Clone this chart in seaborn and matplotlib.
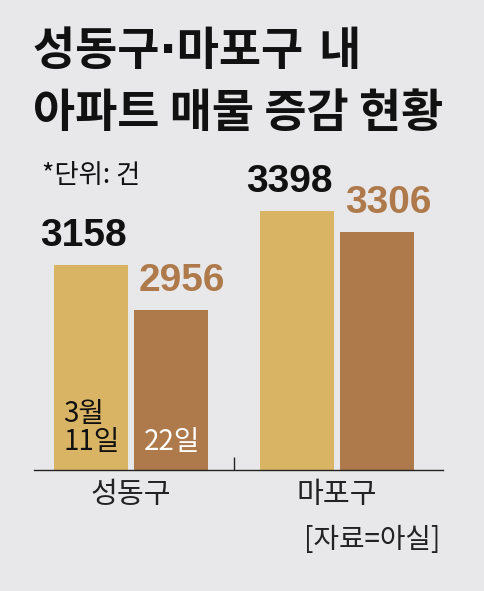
import matplotlib
matplotlib.use("Agg")
import matplotlib.pyplot as plt
import pandas as pd
import seaborn as sns

districts = ["성동구", "마포구"]
dates = ["3월\n11일", "22일"]
listings_mar11 = [3158, 3398]
listings_mar22 = [2956, 3306]

BG = "#e8e8ea"
GOLD = "#d9b464"
BROWN = "#ae7a4b"
KR = ["Noto Sans CJK KR", "DejaVu Sans"]
NUM = ["Liberation Sans", "Noto Sans CJK KR"]
TITLE = ["DejaVu Sans", "Noto Sans CJK KR"]  # narrow middle dot from DejaVu

df = pd.DataFrame({
    "district": districts * 2,
    "date": [dates[0]] * 2 + [dates[1]] * 2,
    "count": listings_mar11 + listings_mar22,
})

sns.set_style("white")
plt.rcParams["font.family"] = KR

fig = plt.figure(figsize=(4.84, 5.91), dpi=100, facecolor=BG)
ax = fig.add_axes([34 / 484, 121 / 591, 409 / 484, 320 / 591])
ax.set_facecolor(BG)

sns.barplot(data=df, x="district", y="count", hue="date", order=districts,
            hue_order=dates, palette=[GOLD, BROWN], width=0.78, gap=0.08,
            saturation=1, linewidth=0, legend=False, ax=ax)

ymin = 2243
ax.set_ylim(ymin, 3672)
ax.set_xlim(-0.471, 1.515)

for spine in ["left", "top", "right"]:
    ax.spines[spine].set_visible(False)
ax.spines["bottom"].set_color("#222222")
ax.spines["bottom"].set_linewidth(1.0)
ax.set_yticks([])
ax.set_xlabel("")
ax.set_ylabel("")
ax.tick_params(axis="x", which="major", bottom=False, length=0, pad=7,
               labelsize=21, labelcolor="#222222")
ax.set_xticks([0.5], minor=True)
ax.tick_params(axis="x", which="minor", bottom=True, direction="in",
               length=9.5, width=1, color="#222222")

# value labels above bars
for container, color, dx in zip(ax.containers, ["#111111", BROWN], [-5, 8]):
    for bar in container:
        h = bar.get_height()
        ax.annotate(f"{int(h)}", xy=(bar.get_x() + bar.get_width() / 2, h),
                    xytext=(dx, 8), textcoords="offset points",
                    ha="center", va="bottom", fontsize=28, fontweight="bold",
                    color=color, family=NUM)

# date labels inside the first group's bars
for container, label, color in zip(ax.containers, dates, ["#111111", "white"]):
    bar = container[0]
    ax.annotate(label, xy=(bar.get_x(), ymin), xytext=(7, 9),
                textcoords="offset points", ha="left", va="bottom",
                fontsize=20, color=color, linespacing=0.95)

fig.text(33 / 484, 1 - 30 / 591, "성동구·마포구 내", fontsize=33, fontweight="bold",
         ha="left", va="top", color="#111111", family=TITLE)
fig.text(33 / 484, 1 - 91 / 591, "아파트 매물 증감 현황", fontsize=33, fontweight="bold",
         ha="left", va="top", color="#111111")
fig.text(42 / 484, 1 - 162 / 591, "*단위: 건", fontsize=19, ha="left", va="top",
         color="#111111")
fig.text(440 / 484, 1 - 525 / 591, "[자료=아실]", fontsize=20, ha="right", va="top",
         color="#222222")

fig.savefig("out.png", dpi=100, facecolor=BG)
